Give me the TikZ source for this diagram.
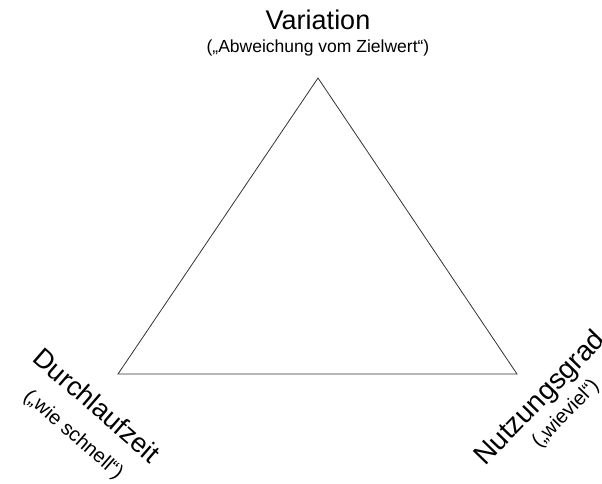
\documentclass[tikz,border=0pt]{standalone}
\usepackage{fontspec}
\setmainfont{Liberation Sans}
\begin{document}
\begin{tikzpicture}[x=1pt,y=-1pt,
  big/.style={inner sep=0pt,font=\fontsize{27}{30}\selectfont},
  small/.style={inner sep=0pt,font=\fontsize{17.5}{20}\selectfont},
  rsmall/.style={inner sep=0pt,font=\fontsize{20}{22}\selectfont},
  edge/.style={draw=black!80,line width=0.8pt}]
\path[use as bounding box] (0,0) rectangle (602,484);
\coordinate (top) at (318,78);
\coordinate (bl) at (118,374);
\coordinate (br) at (517,374);
\draw[edge] (top) -- (bl) -- (br) -- cycle;
\node[big] (var) at (318,20) {Variation};
\node[small] (varsub) at (318,48) {(„Abweichung vom Zielwert“)};
\node[big,rotate=-41] (dlz) at (97,405) {Durchlaufzeit};
\node[rsmall,rotate=-41] (dlzsub) at (73,435) {(„wie schnell“)};
\node[big,font=\fontsize{28}{30}\selectfont,rotate=46] (nzg) at (541,399) {Nutzungsgrad};
\node[rsmall,rotate=46] (nzgsub) at (566,414) {(„wieviel“)};
\end{tikzpicture}
\end{document}
